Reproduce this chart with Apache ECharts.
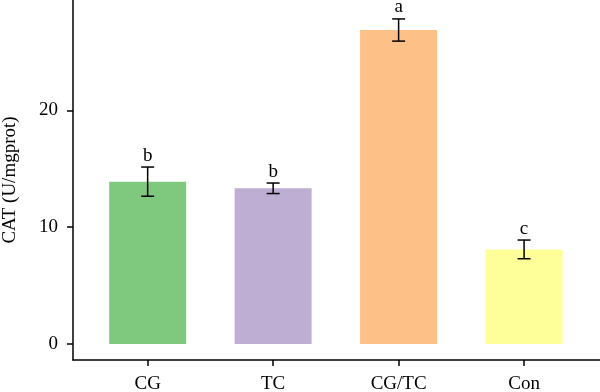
<!DOCTYPE html>
<html><head><meta charset="utf-8">
<script src="https://cdn.jsdelivr.net/npm/echarts@6/dist/echarts.min.js"></script>
<style>html,body{margin:0;padding:0;background:#fff}#c{width:600px;height:392px}</style>
</head><body><div id="c"></div>
<script>
const categories = ['CG', 'TC', 'CG/TC', 'Con'];
const values = [13.9, 13.33, 26.88, 8.1];
const errors = [1.25, 0.45, 0.95, 0.8];
const letters = ['b', 'b', 'a', 'c'];
const colors = ['#7fc97f', '#beaed4', '#fdc086', '#ffff99'];
const yTicks = [0, 10, 20];
const yName = 'CAT (U/mgprot)';

const font = 'Liberation Serif';
const fs = 19;
const chart = echarts.init(document.getElementById('c'));
const positions = categories.map((_, i) => i);

chart.setOption({
  animation: false,
  textStyle: { fontFamily: font },
  grid: { left: 73, right: 0, top: 0, bottom: 32, containLabel: false, outerBoundsMode: 'none' },
  xAxis: {
    type: 'value', min: -0.595, max: 3.605,
    splitLine: { show: false },
    axisLine: { show: true, onZero: false, lineStyle: { color: '#000', width: 1.5 } },
    axisTick: { show: true, length: 6, lineStyle: { color: '#000', width: 1.5 }, customValues: positions },
    axisLabel: { customValues: positions, formatter: v => categories[Math.round(v)] ?? '', color: '#000', fontSize: fs, fontFamily: font, margin: 15 }
  },
  yAxis: {
    type: 'value', min: -1.37, max: 29.45,
    name: yName, nameLocation: 'middle', nameGap: 53,
    nameTextStyle: { color: '#000', fontSize: fs, fontFamily: font },
    splitLine: { show: false },
    axisLine: { show: true, onZero: false, lineStyle: { color: '#000', width: 1.5 } },
    axisTick: { show: true, length: 6, lineStyle: { color: '#000', width: 1.5 }, customValues: yTicks },
    axisLabel: { customValues: yTicks, color: '#000', fontSize: fs, fontFamily: font, margin: 15 }
  },
  series: [
    {
      type: 'bar',
      barWidth: 77,
      data: values.map((v, i) => ({ value: [i, v], itemStyle: { color: colors[i] } }))
    },
    {
      type: 'custom',
      renderItem: (params, api) => {
        const i = api.value(0);
        const v = api.value(1);
        const e = api.value(2);
        const top = api.coord([i, v + e]);
        const bot = api.coord([i, v - e]);
        const hw = 6.5;
        const style = { stroke: '#000', lineWidth: 1.5 };
        return {
          type: 'group',
          children: [
            { type: 'line', shape: { x1: top[0], y1: top[1], x2: bot[0], y2: bot[1] }, style },
            { type: 'line', shape: { x1: top[0] - hw, y1: top[1], x2: top[0] + hw, y2: top[1] }, style },
            { type: 'line', shape: { x1: bot[0] - hw, y1: bot[1], x2: bot[0] + hw, y2: bot[1] }, style },
            { type: 'text', x: top[0], y: top[1] - 2, style: { text: letters[params.dataIndex], fill: '#000', font: fs + 'px "' + font + '"', align: 'center', verticalAlign: 'bottom' } }
          ]
        };
      },
      data: values.map((v, i) => [i, v, errors[i]]),
      z: 5
    }
  ]
});
</script></body></html>
